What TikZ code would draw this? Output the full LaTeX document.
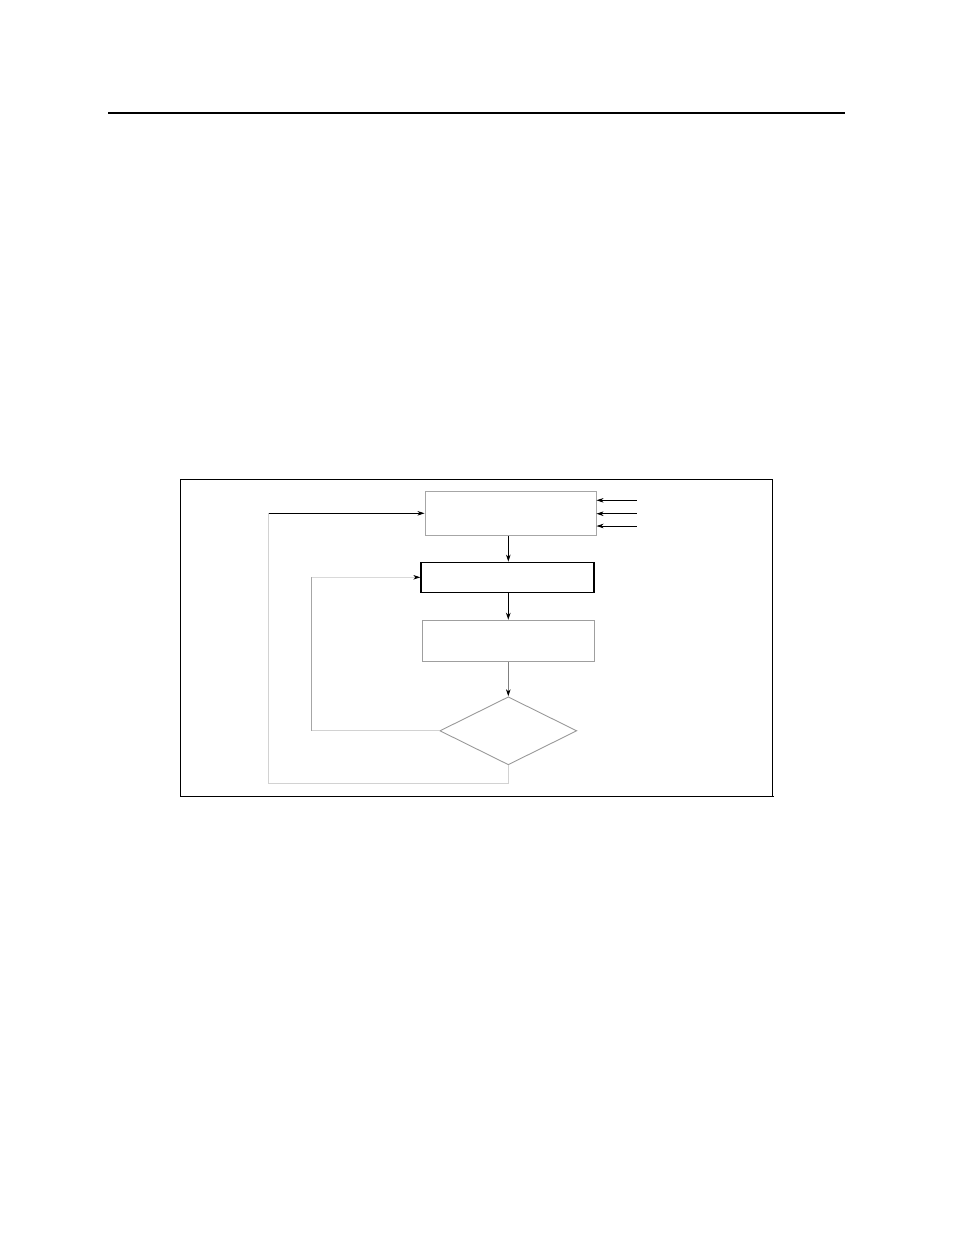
\documentclass[tikz,border=0pt]{standalone}
\usepackage{amsmath,amssymb}
\usetikzlibrary{arrows.meta,shapes.geometric}

\begin{document}
\begin{tikzpicture}[x=1bp, y=-1bp, line width=0.9bp,
	>={Stealth[length=7bp,width=4.5bp,inset=2bp,color=black]},
	box/.style={draw, inner sep=0pt},
	cond/.style={draw, diamond, inner sep=0pt, minimum width=137bp, minimum height=68bp}]
	\useasboundingbox (0,0) rectangle (954,1235);
	\draw [line width=1.2bp] (108,113) -- (845,113);
	\draw (180.5,479.5) rectangle (772.7,796.5);
	\draw [line width=1.5bp] (180.5,796.5) -- (773.5,796.5);
	\node [box, draw=gray!70, minimum width=171bp, minimum height=44bp] (B1) at (510.5,513.3) {};
	\node [box, line width=1.2bp, minimum width=173bp, minimum height=30bp] (B2) at (507.5,577.3) {};
	\node [box, draw=gray!75, minimum width=171.6bp, minimum height=41bp] (B3) at (508.5,640.8) {};
	\node [cond, draw=gray!80] (D) at (508.3,730.8) {};
	\coordinate (IA) at (636.7,500.3);
	\coordinate (IB) at (636.7,513.7);
	\coordinate (IC) at (636.7,526);
	\coordinate (LI) at (311.7,730.8);
	\coordinate (LO) at (268.7,783.7);
	\draw [->] (IA) -- (IA -| B1.east);
	\draw [->] (IB) -- (IB -| B1.east);
	\draw [->] (IC) -- (IC -| B1.east);
	\draw [->, line width=1.2bp] (B1.south -| D) -- (B2.north -| D);
	\draw [->, line width=1.2bp] (B2.south -| D) -- (B3.north -| D);
	\draw [->, gray] (B3.south -| D) -- (D);
	\draw [gray!35] (D.west) -- (LI);
	\draw [gray!70] (LI) -- (LI |- B2.west);
	\draw [->, gray!30] (LI |- B2.west) -- (B2.west);
	\draw [gray!35] (D.south) -- (D.south |- LO) -- (LO);
	\draw [gray!35] (LO) -- (LO |- B1.west);
	\draw [->] (LO |- B1.west) -- (B1.west);
\end{tikzpicture}
\end{document}
